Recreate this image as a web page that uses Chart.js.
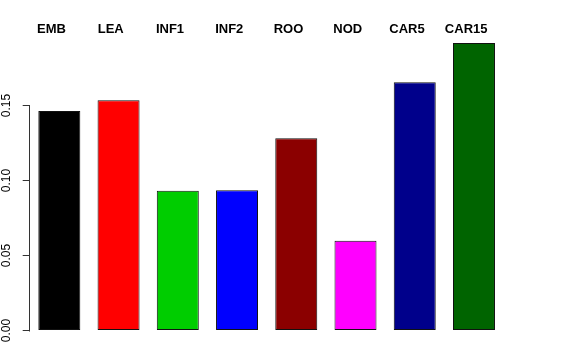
<!DOCTYPE html>
<html><head><meta charset="utf-8">
<script src="https://cdn.jsdelivr.net/npm/chart.js@4/dist/chart.umd.min.js"></script>
<style>html,body{margin:0;padding:0;background:#fff}#wrap{width:576px;height:360px}</style>
</head><body><div id="wrap"><canvas id="c" width="576" height="360"></canvas></div>
<script>
const categories = ['EMB','LEA','INF1','INF2','ROO','NOD','CAR5','CAR15'];
const values = [0.1463,0.1535,0.0932,0.0935,0.1281,0.0599,0.1655,0.1917];
const barColors = ['#000000','#FF0000','#00CD00','#0000FF','#8B0000','#FF00FF','#00008B','#006400'];
const yTickValues = [0, 0.05, 0.10, 0.15];
const yTickLabels = ['0.00', '0.05', '0.10', '0.15'];

const spine = {
  id: 'spine',
  afterDraw(chart) {
    const y = chart.scales.y;
    const ctx = chart.ctx;
    ctx.save();
    ctx.strokeStyle = '#333333';
    ctx.lineWidth = 1;
    const x = Math.round(y.right) - 0.5;
    ctx.beginPath();
    ctx.moveTo(x, Math.round(y.getPixelForValue(yTickValues[0])) + 0.5);
    ctx.lineTo(x, Math.round(y.getPixelForValue(yTickValues[yTickValues.length - 1])) - 0.5);
    ctx.stroke();
    ctx.restore();
  }
};

new Chart(document.getElementById('c'), {
  type: 'bar',
  data: {
    labels: categories,
    datasets: [{
      data: values,
      backgroundColor: barColors,
      borderColor: '#111111',
      borderWidth: 1,
      borderSkipped: false,
      barPercentage: 0.709,
      categoryPercentage: 1.0
    }]
  },
  options: {
    responsive: false,
    devicePixelRatio: 1,
    animation: false,
    layout: { padding: { left: 0, right: 72.4, top: 21.5, bottom: 29.5 } },
    plugins: { legend: { display: false }, tooltip: { enabled: false } },
    scales: {
      x: {
        position: 'top',
        offset: true,
        grid: { display: false, drawTicks: false },
        border: { display: false },
        ticks: {
          padding: 0,
          labelOffset: -7.8,
          color: '#000000',
          font: { family: '"Liberation Sans", Arial, sans-serif', size: 13, weight: 'bold' }
        }
      },
      y: {
        position: 'left',
        min: 0,
        max: 0.1956,
        afterBuildTicks(scale) { scale.ticks = yTickValues.map(v => ({ value: v })); },
        afterFit(scale) { scale.width = 29.7; },
        grid: { drawOnChartArea: false, drawTicks: true, tickLength: 7, color: '#333333' },
        border: { display: false },
        ticks: {
          padding: 4,
          minRotation: 90,
          maxRotation: 90,
          crossAlign: 'center',
          color: '#000000',
          font: { family: '"Liberation Sans", Arial, sans-serif', size: 12, lineHeight: 1 },
          callback(value, index) { return yTickLabels[index]; }
        }
      }
    }
  },
  plugins: [spine]
});
</script>
</body></html>
